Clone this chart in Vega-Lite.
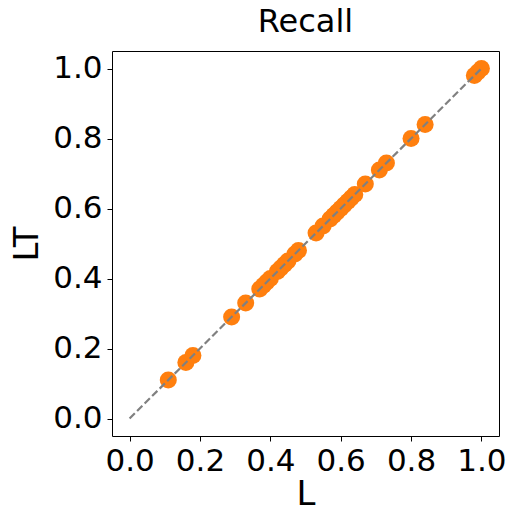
{
  "$schema": "https://vega.github.io/schema/vega-lite/v6.json",
  "autosize": "none",
  "width": 387,
  "height": 385,
  "padding": {"left": 112, "top": 51, "right": 19, "bottom": 90},
  "background": "white",
  "config": {
    "font": "DejaVu Sans",
    "view": {"stroke": "black", "strokeWidth": 1},
    "axis": {
      "grid": false,
      "domain": false,
      "tickColor": "black",
      "tickSize": 5,
      "tickWidth": 1,
      "labelFont": "DejaVu Sans",
      "labelFontSize": 31,
      "labelColor": "black",
      "titleFont": "DejaVu Sans",
      "titleFontSize": 34,
      "titleFontWeight": "normal",
      "titleColor": "black",
      "labelPadding": 5
    },
    "title": {"font": "DejaVu Sans", "fontSize": 32, "fontWeight": "normal", "color": "black", "offset": 12}
  },
  "title": "Recall",
  "datasets": {
    "pts": [
      {"L": 0.11, "LT": 0.11},
      {"L": 0.16, "LT": 0.16},
      {"L": 0.18, "LT": 0.18},
      {"L": 0.29, "LT": 0.29},
      {"L": 0.33, "LT": 0.33},
      {"L": 0.37, "LT": 0.37},
      {"L": 0.38, "LT": 0.38},
      {"L": 0.39, "LT": 0.39},
      {"L": 0.40, "LT": 0.40},
      {"L": 0.42, "LT": 0.42},
      {"L": 0.43, "LT": 0.43},
      {"L": 0.44, "LT": 0.44},
      {"L": 0.45, "LT": 0.45},
      {"L": 0.47, "LT": 0.47},
      {"L": 0.48, "LT": 0.48},
      {"L": 0.53, "LT": 0.53},
      {"L": 0.55, "LT": 0.55},
      {"L": 0.57, "LT": 0.57},
      {"L": 0.58, "LT": 0.58},
      {"L": 0.59, "LT": 0.59},
      {"L": 0.60, "LT": 0.60},
      {"L": 0.61, "LT": 0.61},
      {"L": 0.62, "LT": 0.62},
      {"L": 0.63, "LT": 0.63},
      {"L": 0.64, "LT": 0.64},
      {"L": 0.67, "LT": 0.67},
      {"L": 0.71, "LT": 0.71},
      {"L": 0.73, "LT": 0.73},
      {"L": 0.80, "LT": 0.80},
      {"L": 0.84, "LT": 0.84},
      {"L": 0.98, "LT": 0.98},
      {"L": 0.99, "LT": 0.99},
      {"L": 1.0, "LT": 1.0}
    ],
    "diag": [
      {"L": 0, "LT": 0},
      {"L": 1, "LT": 1}
    ]
  },
  "layer": [
    {
      "data": {"name": "pts"},
      "mark": {"type": "circle", "color": "#ff7f0e", "opacity": 1, "size": 290},
      "encoding": {
        "x": {"field": "L", "type": "quantitative", "scale": {"domain": [-0.05, 1.05], "nice": false, "zero": false},
              "axis": {"values": [0, 0.2, 0.4, 0.6, 0.8, 1.0], "format": ".1f", "title": "L", "titlePadding": 1}},
        "y": {"field": "LT", "type": "quantitative", "scale": {"domain": [-0.05, 1.05], "nice": false, "zero": false},
              "axis": {"values": [0, 0.2, 0.4, 0.6, 0.8, 1.0], "format": ".1f", "title": "LT", "titlePadding": 8}}
      }
    },
    {
      "data": {"name": "diag"},
      "mark": {"type": "line", "color": "gray", "strokeWidth": 2.2, "strokeDash": [7.4, 3.2]},
      "encoding": {
        "x": {"field": "L", "type": "quantitative"},
        "y": {"field": "LT", "type": "quantitative"}
      }
    }
  ]
}
